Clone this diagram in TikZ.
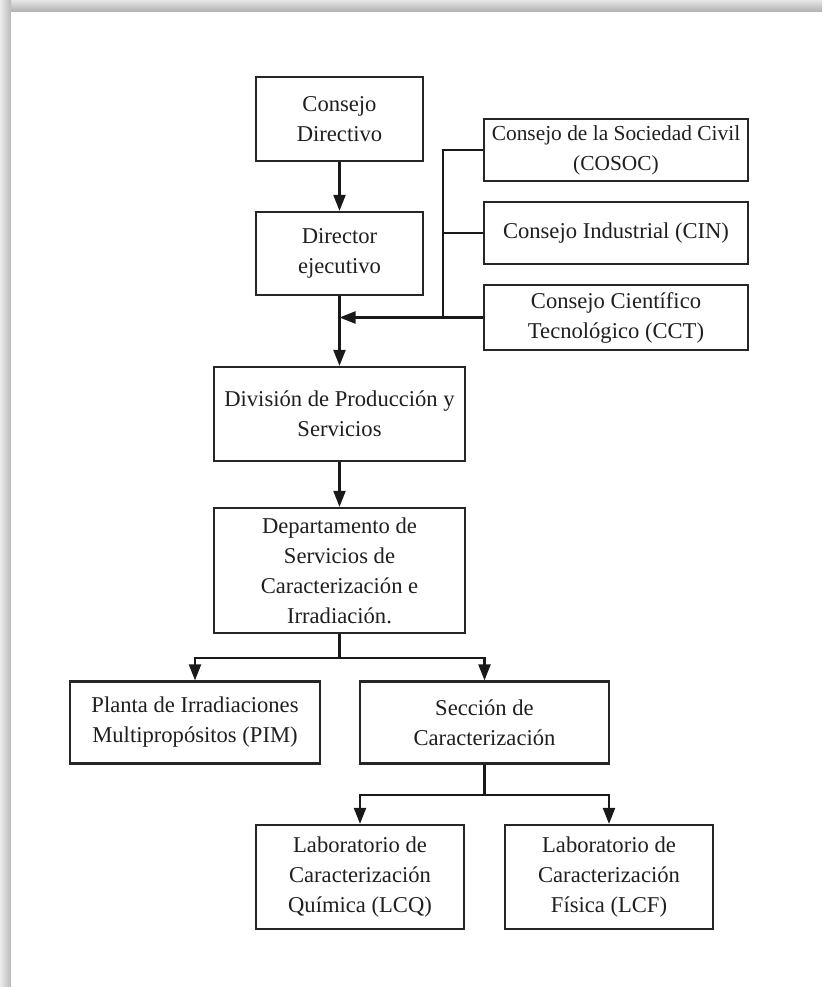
\documentclass[tikz,border=0pt]{standalone}
\usepackage{fontspec}
\setmainfont{Liberation Serif}
\usetikzlibrary{arrows.meta}
\begin{document}
\begin{tikzpicture}[x=1pt,y=-1pt,
  box/.style={draw=black!85, line width=2.2pt, align=center, inner sep=0pt,
    font=\fontsize{22.6}{30}\selectfont, text=black!88},
  conn/.style={draw=black!90, line width=2.2pt},
  arr/.style={conn, -{Triangle[width=12pt,length=16pt]}}]
\useasboundingbox (0,0) rectangle (822,987);
% page with shadow
\shade[top color=gray!20, bottom color=gray!62] (0,0) rectangle (822,12);
\shade[left color=gray!15, right color=gray!55] (0,0) rectangle (11,987);
\fill[white] (11,12) rectangle (822,987);
% nodes
\node[box, minimum width=167pt, minimum height=84pt] (cd) at (339.5,119) {Consejo\\Directivo};
\node[box, minimum width=167pt, minimum height=83pt] (de) at (339.5,253.5) {Director\\ejecutivo};
\node[box, minimum width=264pt, minimum height=62pt, font=\fontsize{21.4}{30}\selectfont] (cosoc) at (616,150) {Consejo de la Sociedad Civil\\(COSOC)};
\node[box, minimum width=264pt, minimum height=62pt] (cin) at (616,233) {Consejo Industrial (CIN)};
\node[box, minimum width=264pt, minimum height=65pt] (cct) at (616,317.5) {Consejo Científico\\Tecnológico (CCT)};
\node[box, minimum width=251pt, minimum height=94pt] (div) at (339.5,414) {División de Producción y\\Servicios};
\node[box, minimum width=251pt, minimum height=125pt] (dep) at (339.5,570.5) {Departamento de\\Servicios de\\Caracterización e\\Irradiación.};
\node[box, minimum width=250pt, minimum height=82pt] (pim) at (195,722.5) {Planta de Irradiaciones\\Multipropósitos (PIM)};
\node[box, minimum width=249pt, minimum height=82pt] (sec) at (484.5,722.5) {Sección de\\Caracterización};
\node[box, minimum width=208pt, minimum height=104pt] (lcq) at (360,877) {Laboratorio de\\Caracterización\\Química (LCQ)};
\node[box, minimum width=208pt, minimum height=104pt] (lcf) at (609,877) {Laboratorio de\\Caracterización\\Física (LCF)};
% connectors
\coordinate (bus) at (443,0);
\draw[arr] (cd) -- (de);
\draw[arr] (de) -- (div);
\draw[arr] (div) -- (dep);
\draw[conn] (cosoc.west) -| (bus |- cct.west);
\draw[conn] (cin.west) -- (bus |- cin.west);
\draw[arr] (cct.west) -- (de.south |- cct.west);
\draw[arr] (dep.south) -- ++(0,24) -| (pim.north);
\draw[arr] (dep.south) -- ++(0,24) -| (sec.north);
\draw[arr] (sec.south) -- ++(0,30) -| (lcq.north);
\draw[arr] (sec.south) -- ++(0,30) -| (lcf.north);
\end{tikzpicture}
\end{document}
